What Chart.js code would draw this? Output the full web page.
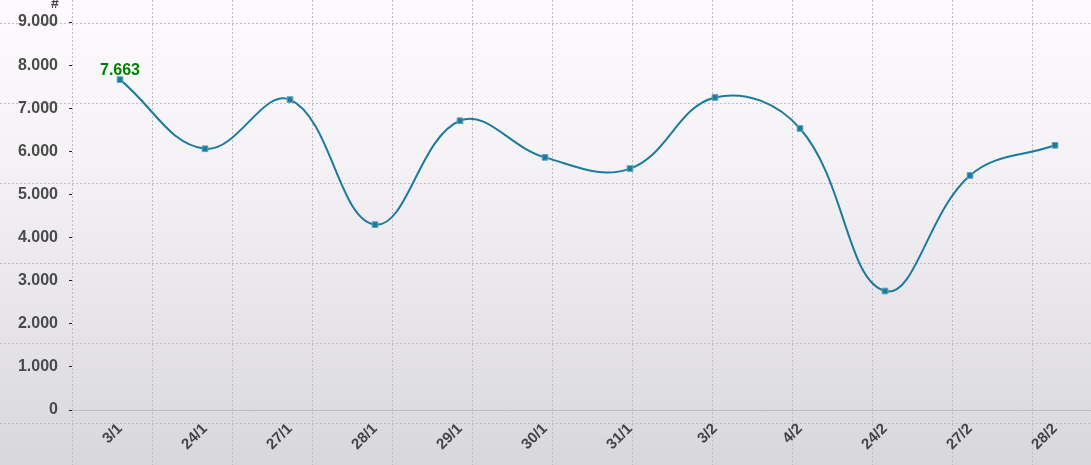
<!DOCTYPE html>
<html>
<head>
<meta charset="utf-8">
<script src="https://cdn.jsdelivr.net/npm/chart.js@4/dist/chart.umd.min.js"></script>
<style>
  html, body { margin: 0; padding: 0; }
  body {
    width: 1091px; height: 465px; overflow: hidden;
    background: linear-gradient(#fefbfe 0%, #f5f2f6 35%, #e6e4e9 70%, #d8d7dc 100%);
  }
  #chart { display: block; }
</style>
</head>
<body>
<canvas id="chart" width="1091" height="465"></canvas>
<script>
// chart data
const categories = ["3/1", "24/1", "27/1", "28/1", "29/1", "30/1", "31/1", "3/2", "4/2", "24/2", "27/2", "28/2"];
const values = [7663, 6060, 7200, 4300, 6710, 5860, 5600, 7250, 6530, 2760, 5440, 6140];
const yTicks = [0, 1000, 2000, 3000, 4000, 5000, 6000, 7000, 8000, 9000];
const highlightIndex = 0;

function fmt(v) {
  return String(v).replace(/\B(?=(\d{3})+(?!\d))/g, ".");
}

// dashed background grid, independent of the data
const bgGrid = {
  id: "bgGrid",
  beforeDraw(chart) {
    const ctx = chart.ctx;
    ctx.save();
    ctx.strokeStyle = "#c2bbc2";
    ctx.lineWidth = 1;
    ctx.setLineDash([2, 2]);
    for (let x = 72; x < chart.width; x += 80) {
      ctx.beginPath();
      ctx.moveTo(x + 0.5, 0);
      ctx.lineTo(x + 0.5, chart.height);
      ctx.stroke();
    }
    for (let y = 23; y < chart.height; y += 80) {
      ctx.beginPath();
      ctx.moveTo(0, y + 0.5);
      ctx.lineTo(chart.width, y + 0.5);
      ctx.stroke();
    }
    ctx.restore();
  },
  afterDatasetsDraw(chart) {
    const ctx = chart.ctx;
    const pt = chart.getDatasetMeta(0).data[highlightIndex];
    ctx.save();
    ctx.fillStyle = "#008000";
    ctx.font = "bold 16px 'Liberation Sans', Arial, sans-serif";
    ctx.textAlign = "center";
    ctx.textBaseline = "bottom";
    ctx.fillText(fmt(values[highlightIndex]), pt.x, pt.y - 1);
    // axis unit label
    const ys = chart.scales.y;
    ctx.fillStyle = "#444";
    ctx.font = "bold 14px 'Liberation Sans', Arial, sans-serif";
    ctx.textAlign = "center";
    ctx.textBaseline = "alphabetic";
    ctx.fillText("#", ys.right - 17, 8);
    ctx.restore();
  }
};

const ctx = document.getElementById("chart").getContext("2d");
new Chart(ctx, {
  type: "line",
  data: {
    datasets: [{
      data: values.map((v, i) => ({ x: i, y: v })),
      borderColor: "#1c7b9b",
      borderWidth: 2,
      tension: 0.4,
      pointStyle: "rect",
      pointRadius: 4,
      pointBackgroundColor: "#1c7b9b",
      pointBorderColor: "#5aa5bd",
      pointBorderWidth: 1,
      fill: false
    }]
  },
  options: {
    responsive: false,
    animation: false,
    layout: { autoPadding: false, padding: { top: 22, right: 0, left: 0, bottom: 0 } },
    plugins: { legend: { display: false }, tooltip: { enabled: false } },
    scales: {
      x: {
        type: "linear",
        min: -48 / 85,
        max: 11 + 36 / 85,
        afterFit(s) { s.height = 55; s.paddingLeft = 0; s.paddingRight = 0; },
        grid: { display: false },
        border: { display: true, color: "#bdbcc0", width: 1 },
        ticks: {
          stepSize: 1,
          includeBounds: false,
          autoSkip: false,
          minRotation: 45,
          maxRotation: 45,
          padding: 2,
          color: "#444",
          font: { family: "'Liberation Sans', Arial, sans-serif", size: 15, weight: "bold" },
          callback: (v) => categories[v] !== undefined && Number.isInteger(v) ? categories[v] : ""
        }
      },
      y: {
        min: yTicks[0],
        max: yTicks[yTicks.length - 1],
        afterFit(s) { s.width = 72; s.paddingTop = 0; s.paddingBottom = 0; },
        afterBuildTicks(s) { s.ticks = yTicks.map(v => ({ value: v })); },
        grid: { drawOnChartArea: false, tickLength: 3, color: "#222", tickWidth: 1 },
        border: { display: false },
        ticks: {
          padding: 11,
          color: "#4a4a4a",
          font: { family: "'Liberation Sans', Arial, sans-serif", size: 16, weight: "bold" },
          callback: (v) => fmt(v)
        }
      }
    }
  },
  plugins: [bgGrid]
});
</script>
</body>
</html>
